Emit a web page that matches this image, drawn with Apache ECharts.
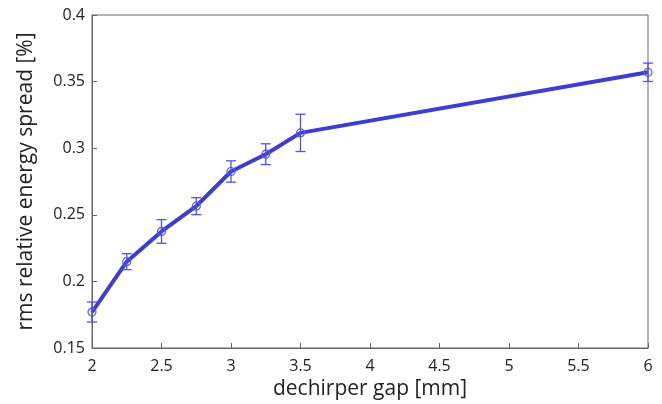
<!DOCTYPE html>
<html><head><meta charset="utf-8">
<script src="https://cdn.jsdelivr.net/npm/echarts@6/dist/echarts.min.js"></script>
<style>html,body{margin:0;padding:0;background:#fff}#c{width:662px;height:404px}</style>
</head><body><div id="c"></div>
<script>
const gaps = [2, 2.25, 2.5, 2.75, 3, 3.25, 3.5, 6];
const spread = [0.177, 0.2148, 0.2375, 0.2565, 0.2825, 0.2955, 0.3115, 0.357];
const errs = [0.0075, 0.006, 0.0089, 0.0064, 0.008, 0.0078, 0.014, 0.0069];
const xTicks = [2, 2.5, 3, 3.5, 4, 4.5, 5, 5.5, 6];
const yTicks = [0.15, 0.2, 0.25, 0.3, 0.35, 0.4];

const pts = gaps.map((g, i) => [g, spread[i]]);
const errData = gaps.map((g, i) => [g, spread[i] - errs[i], spread[i] + errs[i]]);
const font = "'Open Sans', 'Liberation Sans', sans-serif";
const chart = echarts.init(document.getElementById('c'));
chart.setOption({
  animation: false,
  grid: {left: 92, right: 14, top: 15, bottom: 56, show: true, borderColor: '#666', borderWidth: 1,
    containLabel: false, outerBoundsMode: 'none'},
  xAxis: {
    type: 'value', min: xTicks[0], max: xTicks[xTicks.length-1], interval: 0.5,
    name: 'dechirper gap [mm]', nameLocation: 'middle', nameGap: 31,
    nameTextStyle: {fontFamily: font, fontSize: 21, color: '#222'},
    axisLine: {lineStyle: {color: '#666'}},
    axisTick: {inside: true, length: 5, lineStyle: {color: '#666'}},
    axisLabel: {fontFamily: font, fontSize: 16, color: '#222', margin: 10},
    splitLine: {show: false}
  },
  yAxis: {
    type: 'value', min: yTicks[0], max: yTicks[yTicks.length-1], interval: 0.05,
    name: 'rms relative energy spread [%]', nameLocation: 'middle', nameGap: 55,
    nameTextStyle: {fontFamily: font, fontSize: 21, color: '#222'},
    axisLine: {show: true, lineStyle: {color: '#666'}},
    axisTick: {show: true, inside: true, length: 5, lineStyle: {color: '#666'}},
    axisLabel: {fontFamily: font, fontSize: 16, color: '#222', margin: 7,
      formatter: v => String(Math.round(v*100)/100)},
    splitLine: {show: false}
  },
  series: [
    {
      type: 'line', data: pts, symbol: 'circle', symbolSize: 8,
      lineStyle: {color: '#3d3dcf', width: 4},
      itemStyle: {color: 'rgba(0,0,0,0)', borderColor: '#5a5aee', borderWidth: 1.2},
      z: 3
    },
    {
      type: 'custom', data: errData, z: 4,
      renderItem: function (params, api) {
        const x = api.value(0);
        const lo = api.coord([x, api.value(1)]);
        const hi = api.coord([x, api.value(2)]);
        const hw = 5;
        const st = {stroke: '#5050f5', lineWidth: 1.3};
        return {type: 'group', children: [
          {type: 'line', shape: {x1: lo[0], y1: lo[1], x2: hi[0], y2: hi[1]}, style: st},
          {type: 'line', shape: {x1: lo[0]-hw, y1: lo[1], x2: lo[0]+hw, y2: lo[1]}, style: st},
          {type: 'line', shape: {x1: hi[0]-hw, y1: hi[1], x2: hi[0]+hw, y2: hi[1]}, style: st}
        ]};
      }
    }
  ]
});
</script></body></html>
